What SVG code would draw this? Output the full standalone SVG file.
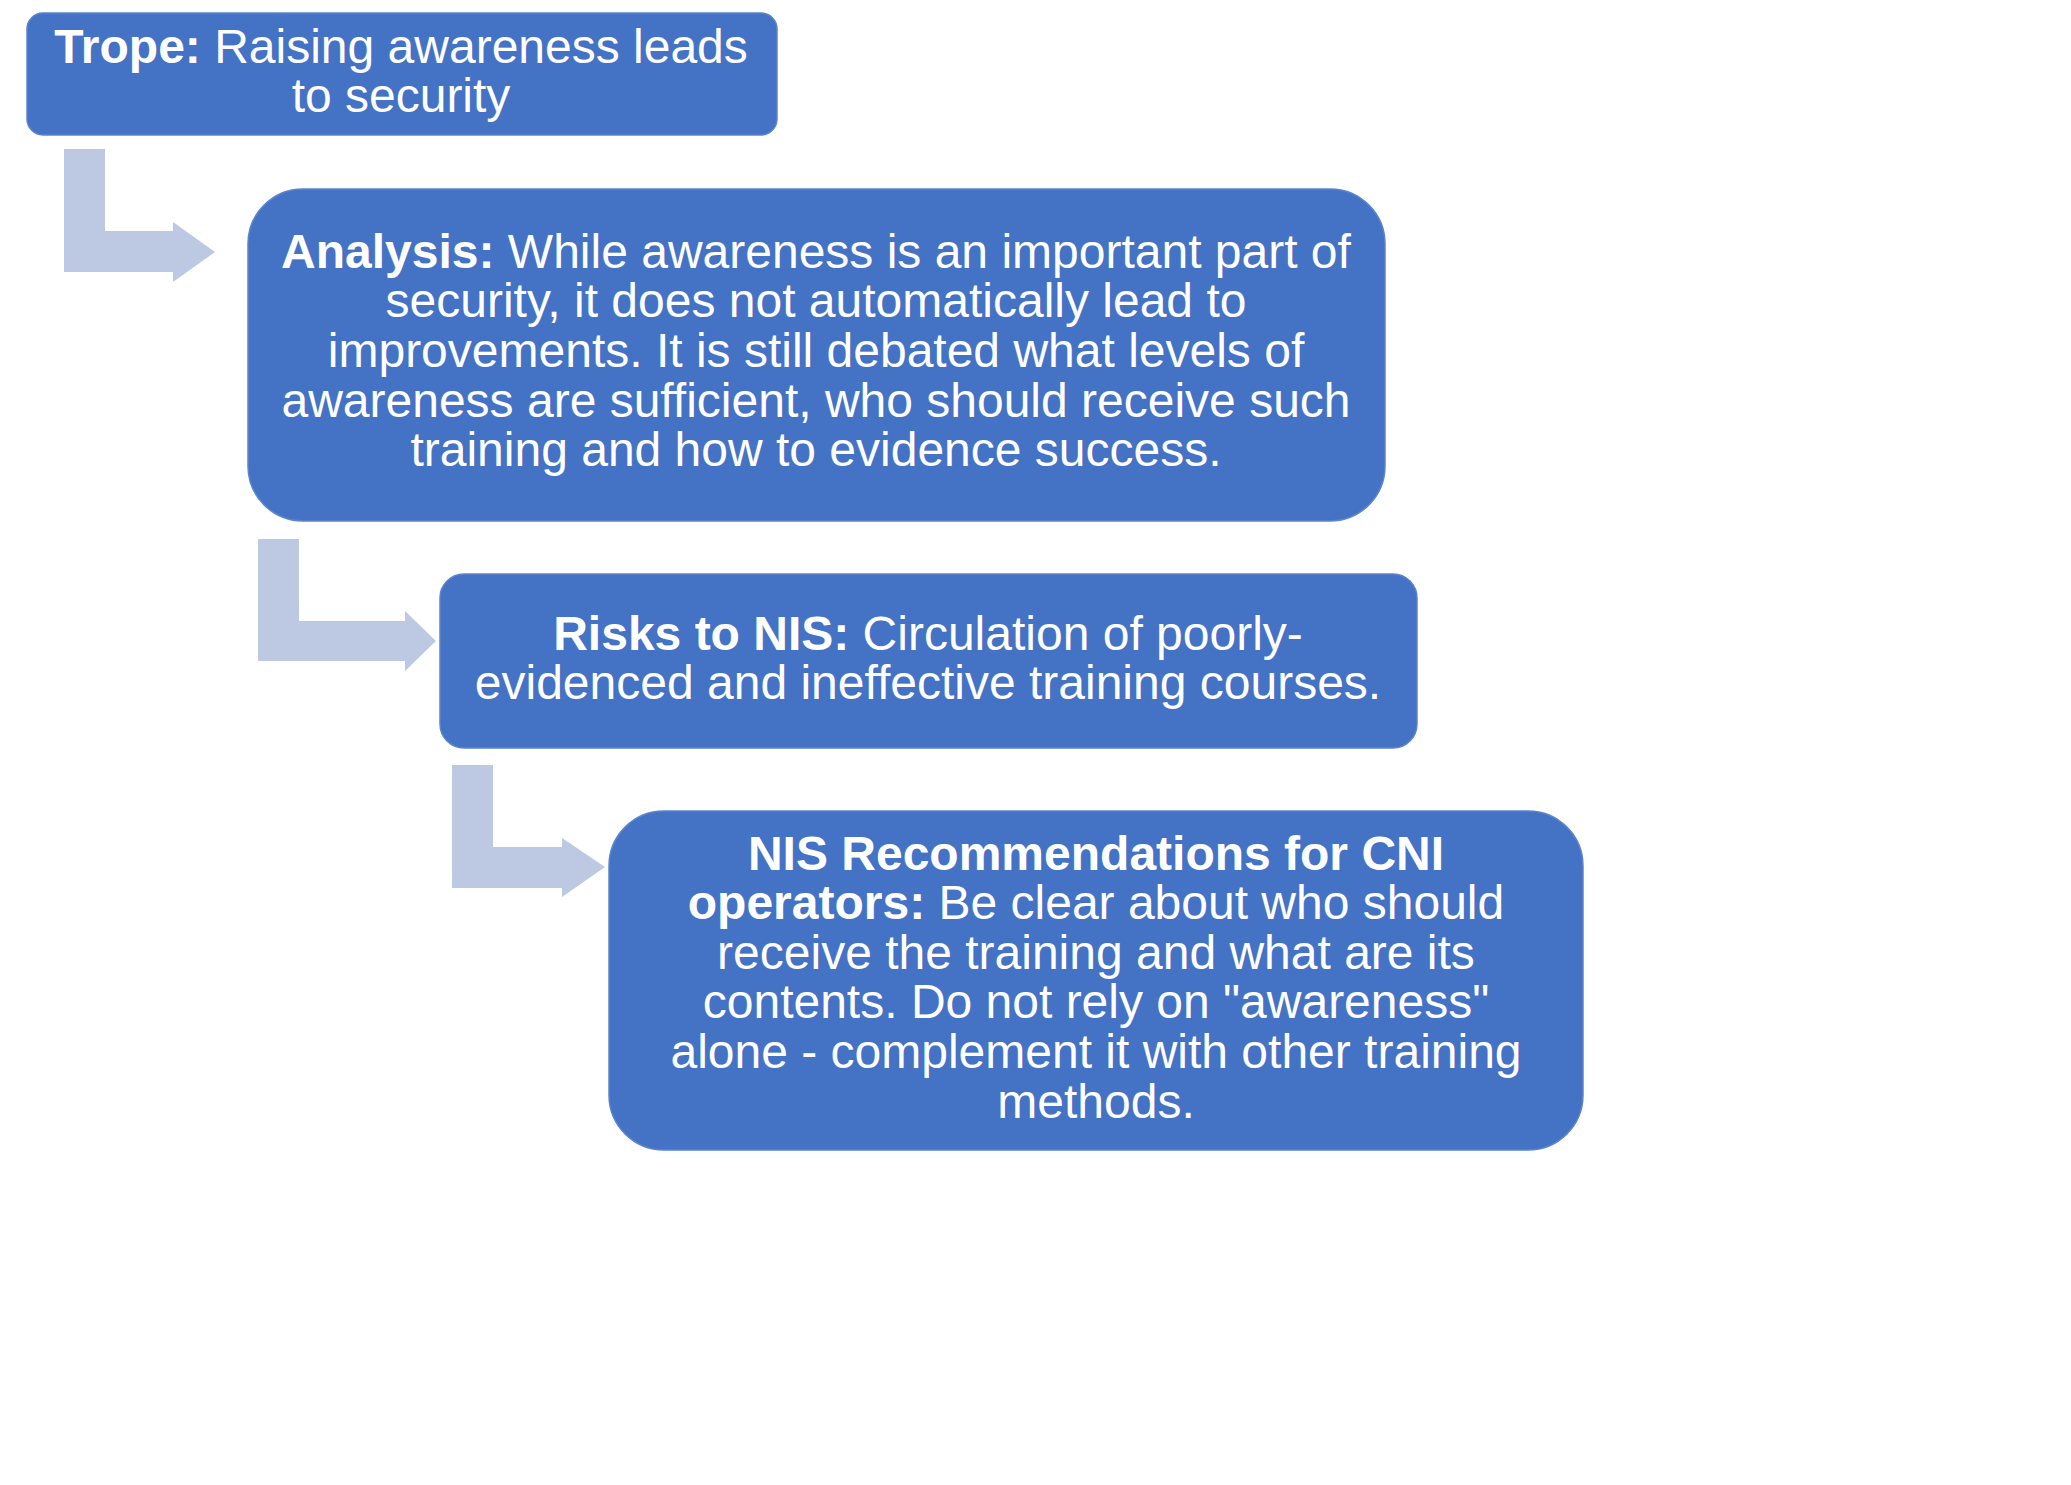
<svg xmlns="http://www.w3.org/2000/svg" width="2071" height="1485" viewBox="0 0 2071 1485">
<style>
.box{fill:#4472C4;stroke:#5B84CC;stroke-width:1.5}
.arr{fill:#BDC8E3}
.t{font-family:"Liberation Sans",Arial,sans-serif;font-size:48px;fill:#FFFFFF;text-anchor:middle}
.b{font-weight:bold}
</style>
<rect width="2071" height="1485" fill="#FFFFFF"/>
<g id="connectors">
<path class="arr" d="M64,149 H105 V231 H173 V222 L215,252 L173,282 V272 H64 Z"/>
<path class="arr" d="M258,539 H299 V621 H405 V611 L436,641 L405,671 V661 H258 Z"/>
<path class="arr" d="M452,765 H493 V847 H562 V838 L605,867 L562,897 V888 H452 Z"/>
</g>
<g id="node-trope">
<rect class="box" x="27" y="13" width="750" height="122" rx="16"/>
<text class="t" x="401" y="63"><tspan class="b">Trope:</tspan> Raising awareness leads</text>
<text class="t" x="401" y="112">to security</text>
</g>
<g id="node-analysis">
<rect class="box" x="248" y="189" width="1137" height="332" rx="55"/>
<text class="t" x="816" y="268"><tspan class="b">Analysis:</tspan> While awareness is an important part of</text>
<text class="t" x="816" y="317">security, it does not automatically lead to</text>
<text class="t" x="816" y="367">improvements. It is still debated what levels of</text>
<text class="t" x="816" y="417">awareness are sufficient, who should receive such</text>
<text class="t" x="816" y="466">training and how to evidence success.</text>
</g>
<g id="node-risks">
<rect class="box" x="440" y="574" width="977" height="174" rx="24"/>
<text class="t" x="928" y="650"><tspan class="b">Risks to NIS:</tspan> Circulation of poorly-</text>
<text class="t" x="928" y="699">evidenced and ineffective training courses.</text>
</g>
<g id="node-recommendations">
<rect class="box" x="609" y="811" width="974" height="339" rx="55"/>
<text class="t" x="1096" y="870"><tspan class="b">NIS Recommendations for CNI</tspan></text>
<text class="t" x="1096" y="919"><tspan class="b">operators:</tspan> Be clear about who should</text>
<text class="t" x="1096" y="969">receive the training and what are its</text>
<text class="t" x="1096" y="1018">contents. Do not rely on "awareness"</text>
<text class="t" x="1096" y="1068">alone - complement it with other training</text>
<text class="t" x="1096" y="1118">methods.</text>
</g>
</svg>
